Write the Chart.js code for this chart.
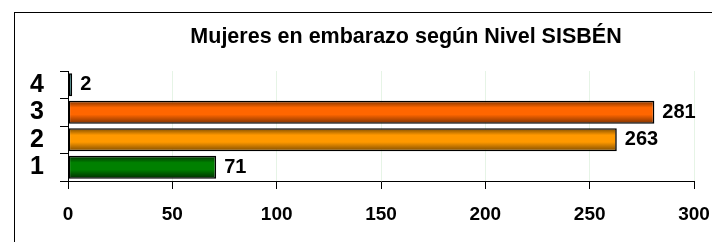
<!DOCTYPE html>
<html>
<head>
<meta charset="utf-8">
<script src="https://cdn.jsdelivr.net/npm/chart.js@4"></script>
<style>
  html, body { margin: 0; padding: 0; background: #fff; }
  #wrap { position: relative; width: 712px; height: 242px; overflow: hidden; }
  #frame { position: absolute; left: 14px; top: 12px; width: 720px; height: 260px; border: 1px solid #000; box-sizing: border-box; }
  canvas { position: absolute; left: 0; top: 0; }
</style>
</head>
<body>
<div id="wrap">
  <div id="frame"></div>
  <canvas id="c" width="712" height="242"></canvas>
</div>
<script>
const titleText = 'Mujeres en embarazo según Nivel SISBÉN';
const categories = ['4', '3', '2', '1'];
const values = [2, 281, 263, 71];
const centerColors = ['#33a3a3', '#ff6600', '#ff9900', '#008000'];
const edgeColors = ['#0d3d3d', '#7a3000', '#7a4a00', '#002a00'];
const xTicks = [0, 50, 100, 150, 200, 250, 300];

const BAR_PCT = 0.84;

function barFill(ctx) {
  const chart = ctx.chart;
  const i = ctx.dataIndex;
  const ys = chart.scales && chart.scales.y;
  if (!ys || i === undefined) return centerColors[0];
  const yc = ys.getPixelForValue(i);
  const band = ys.height / categories.length;
  const h = band * BAR_PCT;
  if (!isFinite(yc) || !isFinite(h) || h <= 0) return centerColors[i];
  const g = chart.ctx.createLinearGradient(0, yc - h / 2, 0, yc + h / 2);
  g.addColorStop(0, edgeColors[i]);
  g.addColorStop(0.3, centerColors[i]);
  g.addColorStop(0.6, centerColors[i]);
  g.addColorStop(1, edgeColors[i]);
  return g;
}

const titlePlugin = {
  id: 'customTitle',
  afterDraw(chart) {
    const c = chart.ctx;
    c.save();
    c.font = 'bold 21.5px "Liberation Sans", Arial, sans-serif';
    c.fillStyle = '#000';
    c.textAlign = 'center';
    c.textBaseline = 'middle';
    c.fillText(titleText, 406, 37);
    c.restore();
  }
};

const labelPlugin = {
  id: 'valueLabels',
  afterDatasetsDraw(chart) {
    const c = chart.ctx;
    const meta = chart.getDatasetMeta(0);
    c.save();
    c.font = 'bold 20px "Liberation Sans", Arial, sans-serif';
    c.fillStyle = '#000';
    c.textAlign = 'left';
    c.textBaseline = 'middle';
    meta.data.forEach((bar, i) => {
      c.fillText(String(values[i]), bar.x + 8, bar.y);
    });
    c.restore();
  }
};

new Chart(document.getElementById('c'), {
  type: 'bar',
  data: {
    labels: categories,
    datasets: [{
      data: values,
      backgroundColor: barFill,
      borderColor: '#000',
      borderWidth: 1.6,
      borderSkipped: false,
      categoryPercentage: 1,
      barPercentage: BAR_PCT
    }]
  },
  options: {
    indexAxis: 'y',
    responsive: false,
    animation: false,
    events: [],
    layout: { padding: { left: 0, right: 0, top: 71, bottom: 0 } },
    plugins: { legend: { display: false }, title: { display: false }, tooltip: { enabled: false } },
    scales: {
      x: {
        type: 'linear',
        min: 0,
        max: 300,
        afterBuildTicks: (s) => { s.ticks = xTicks.map(v => ({ value: v })); },
        afterFit: (s) => { s.height = 61; s.paddingRight = 18; s.paddingLeft = 0; },
        grid: { color: '#e6f4e6', tickColor: '#000', tickLength: 8, drawOnChartArea: true },
        border: { color: '#000', width: 1 },
        ticks: {
          color: '#000',
          font: { family: '"Liberation Sans", Arial, sans-serif', size: 19, weight: 'bold' },
          padding: 14,
          maxRotation: 0,
          autoSkip: false
        }
      },
      y: {
        afterFit: (s) => { s.width = 68; },
        grid: { offset: true, drawOnChartArea: false, tickColor: '#000', tickLength: 8 },
        border: { color: '#000', width: 1 },
        ticks: {
          color: '#000',
          font: { family: '"Liberation Sans", Arial, sans-serif', size: 25, weight: 'bold', lineHeight: 1 },
          padding: 16,
          autoSkip: false
        }
      }
    }
  },
  plugins: [titlePlugin, labelPlugin]
});
</script>
</body>
</html>
